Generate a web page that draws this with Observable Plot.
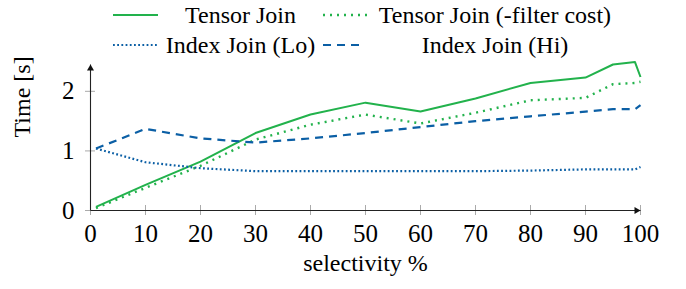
<!DOCTYPE html>
<html>
<head>
<meta charset="utf-8">
<script src="https://cdn.jsdelivr.net/npm/d3@7"></script>
<script src="https://cdn.jsdelivr.net/npm/@observablehq/plot@0.6"></script>
<style>
  html, body { margin: 0; padding: 0; background: white; }
  #wrap { position: relative; width: 686px; height: 289px; font-family: 'Liberation Serif', 'Times New Roman', serif; }
  #legend { position: absolute; left: 113px; top: 0; display: grid;
    grid-template-columns: 45px 165px 47px 250px; grid-auto-rows: 30px;
    font-size: 24px; line-height: 30px; color: #000; }
  #legend .t { text-align: center; white-space: nowrap; font-family: 'Liberation Serif', 'Times New Roman', serif; }
  #legend svg { display: block; }
</style>
</head>
<body>
<div id="wrap"><div id="legend"></div></div>
<script>
// Data
const selectivity = [1, 10, 20, 30, 40, 50, 60, 70, 80, 90, 95, 99, 100];
const tensorJoin = [0.06, 0.43, 0.82, 1.30, 1.61, 1.81, 1.66, 1.88, 2.14, 2.23, 2.45, 2.49, 2.24];
const tensorJoinNoFilter = [0.04, 0.38, 0.75, 1.19, 1.44, 1.61, 1.46, 1.64, 1.85, 1.89, 2.12, 2.14, 2.16];
const indexJoinLo = [1.04, 0.81, 0.71, 0.66, 0.66, 0.66, 0.66, 0.66, 0.67, 0.69, 0.69, 0.69, 0.73];
const indexJoinHi = [1.04, 1.37, 1.21, 1.14, 1.21, 1.30, 1.40, 1.50, 1.58, 1.66, 1.70, 1.70, 1.77];
const xTicks = [0, 10, 20, 30, 40, 50, 60, 70, 80, 90, 100];
const yTicks = [0, 1, 2];
const seriesNames = ["Tensor Join", "Tensor Join (-filter cost)", "Index Join (Lo)", "Index Join (Hi)"];

const green = "#22b24c";
const blue = "#0b5fa5";
const styles = [
  {stroke: green, strokeWidth: 2, strokeDasharray: null},
  {stroke: green, strokeWidth: 2.4, strokeDasharray: "2 5"},
  {stroke: blue, strokeWidth: 2.2, strokeDasharray: "1.8 2.4"},
  {stroke: blue, strokeWidth: 2.2, strokeDasharray: "8 6"}
];
const seriesValues = [tensorJoin, tensorJoinNoFilter, indexJoinLo, indexJoinHi];
const rows = seriesValues.map(vals => selectivity.map((x, i) => ({x, y: vals[i]})));

const font = "'Liberation Serif', 'Times New Roman', serif";
const xMax = 100, yMax = 2.45;

const chart = Plot.plot({
  width: 686, height: 289,
  marginLeft: 90, marginRight: 46, marginTop: 64, marginBottom: 79,
  x: {domain: [0, xMax]},
  y: {domain: [0, yMax]},
  style: {fontFamily: font, fontSize: "25px", background: "transparent", color: "#000", overflow: "visible"},
  marks: [
    Plot.ruleX(xTicks, {x: d => d, y1: 0, y2: 0, insetTop: -5, insetBottom: -5, stroke: "#aaa", strokeWidth: 1}),
    Plot.ruleY(yTicks, {y: d => d, x1: 0, x2: 0, insetLeft: -5, insetRight: -5, stroke: "#aaa", strokeWidth: 1}),
    Plot.link([0], {x1: 0, y1: 0, x2: xMax, y2: 0, stroke: "#222", strokeWidth: 1.1}),
    Plot.link([0], {x1: 0, y1: 0, x2: 0, y2: yMax, stroke: "#222", strokeWidth: 1.1}),
    Plot.dot([0], {x: xMax, y: 0, symbol: "triangle", rotate: 90, r: 2.6, fill: "#111", stroke: "none", dx: -4}),
    Plot.dot([0], {x: 0, y: yMax, symbol: "triangle", rotate: 0, r: 2.6, fill: "#111", stroke: "none", dy: 4}),
    Plot.axisX({ticks: xTicks, tickSize: 0, tickPadding: 14, label: null, fontSize: 25, tickFormat: d => String(d)}),
    Plot.axisY({ticks: yTicks, tickSize: 0, tickPadding: 16, label: null, fontSize: 25, tickFormat: d => String(d)}),
    Plot.text(["selectivity %"], {text: d => d, frameAnchor: "bottom", dy: 60, fontSize: 24}),
    Plot.text(["Time [s]"], {text: d => d, frameAnchor: "left", dx: -68, rotate: -90, fontSize: 24}),
    ...rows.map((r, k) => Plot.line(r, {x: "x", y: "y", ...styles[k], strokeLinecap: "butt", strokeLinejoin: "round"}))
  ]
});
document.getElementById("wrap").appendChild(chart);
chart.style.position = "absolute";
chart.style.left = "0px";
chart.style.top = "0px";

const legend = document.getElementById("legend");
[0, 1, 2, 3].forEach(k => {
  const sw = document.createElementNS("http://www.w3.org/2000/svg", "svg");
  const w = k % 2 === 0 ? 45 : 47;
  sw.setAttribute("width", w);
  sw.setAttribute("height", 30);
  const ln = document.createElementNS("http://www.w3.org/2000/svg", "line");
  ln.setAttribute("x1", 0); ln.setAttribute("x2", k === 3 ? 40 : w);
  ln.setAttribute("y1", 15); ln.setAttribute("y2", 15);
  ln.setAttribute("stroke", styles[k].stroke);
  ln.setAttribute("stroke-width", styles[k].strokeWidth);
  if (styles[k].strokeDasharray) ln.setAttribute("stroke-dasharray", styles[k].strokeDasharray);
  sw.appendChild(ln);
  const cell = document.createElement("div");
  cell.appendChild(sw);
  legend.appendChild(cell);
  const t = document.createElement("div");
  t.className = "t";
  t.textContent = seriesNames[k];
  legend.appendChild(t);
});
</script>
</body>
</html>
